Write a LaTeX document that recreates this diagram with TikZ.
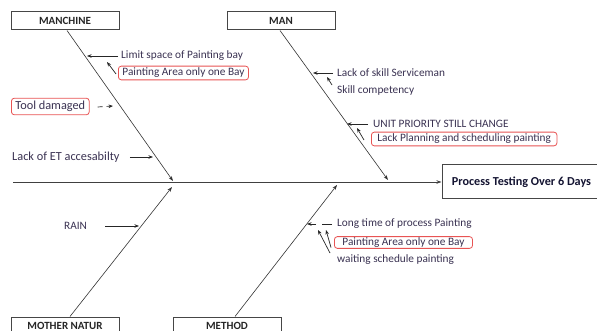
\documentclass[tikz,border=0pt]{standalone}
\usepackage{fontspec}
\setmainfont{Carlito}
\usetikzlibrary{arrows.meta,positioning,calc}
\definecolor{txt}{RGB}{58,50,82}
\definecolor{redb}{RGB}{232,84,84}
\definecolor{boxc}{RGB}{70,70,70}
\definecolor{efftxt}{RGB}{20,20,50}
\tikzset{
  catbox/.style={draw=boxc,line width=1pt,minimum width=108pt,minimum height=18pt,inner sep=0pt,font=\fontsize{11}{13}\selectfont\bfseries,text=black!85},
  effectbox/.style={draw=boxc,line width=1pt,minimum width=156pt,minimum height=34pt,inner sep=0pt,font=\fontsize{12.2}{14}\selectfont\bfseries,text=efftxt},
  lbl/.style={anchor=west,inner sep=0pt,text=txt,font=\fontsize{11.3}{13}\selectfont},
  redbox/.style={anchor=west,draw=redb,line width=0.8pt,rounded corners=3pt,inner xsep=4pt,inner ysep=2pt,text=txt,font=\fontsize{11.3}{13}\selectfont},
  bone/.style={draw=black!80,line width=0.6pt,-{Stealth[length=5pt,width=3.5pt]}},
  spine/.style={draw=black!75,line width=0.9pt,-{Stealth[length=5pt,width=3.5pt]}},
  arr/.style={draw=black!85,line width=0.7pt,-{Stealth[length=4.5pt,width=3.5pt]}}
}
\begin{document}
\begin{tikzpicture}[x=1pt,y=-1pt]
\useasboundingbox (0,0) rectangle (597,331);
\clip (0,0) rectangle (597,331);
\fill[white] (0,0) rectangle (597,331);
% category boxes
\node[catbox] (manchine) at (65,21) {MANCHINE};
\node[catbox] (man) at (281,21) {MAN};
\node[catbox] (mother) at (65,326) {MOTHER NATUR};
\node[catbox] (method) at (227,326) {METHOD};
\node[effectbox] (effect) at (520,182) {\hspace*{3pt}Process Testing Over 6 Days};
% spine
\coordinate (spinestart) at (13,182);
\draw[spine] (spinestart) -- (effect.west);
% bones
\coordinate (bm) at (173,181);
\coordinate (bman) at (388,180);
\coordinate (bmo) at (172,187);
\coordinate (bme) at (337,185);
\draw[bone] ([xshift=2pt]manchine.south) -- (bm);
\draw[bone] ([xshift=-1pt]man.south) -- (bman);
\draw[bone] ([xshift=5pt]mother.north) -- (bmo);
\draw[bone] ([xshift=8pt]method.north) -- (bme);
% MANCHINE causes
\node[lbl] (limit) at (121,56) {Limit space of Painting bay};
\coordinate (limitt) at (87,56);
\draw[arr] ([xshift=-3pt]limit.west) -- (limitt);
\node[redbox] (pa1) at (118,73) {Painting Area only one Bay};
\coordinate (pa1t) at (107,62);
\draw[arr] ([xshift=-2pt,yshift=-1pt]pa1.west) -- (pa1t);
\node[redbox,font=\fontsize{12.3}{14}\selectfont,inner ysep=3pt] (tool) at (11,106.5) {Tool damaged};
\coordinate (toolt) at (113,106);
\draw[arr,dash pattern=on 5pt off 4pt on 20pt] ([xshift=8pt,yshift=-0.5pt]tool.east) -- (toolt);
\node[lbl,font=\fontsize{12.3}{14}\selectfont] (lacket) at (12,157) {Lack of ET accesabilty};
\coordinate (lackett) at (153,157);
\draw[arr] ([xshift=10pt]lacket.east) -- (lackett);
% MOTHER NATUR cause
\node[lbl] (rain) at (64,226) {RAIN};
\coordinate (raint) at (139,226);
\draw[arr] ([xshift=18pt]rain.east) -- (raint);
% MAN causes
\node[lbl] (skill) at (337,73) {Lack of skill Serviceman};
\coordinate (skillt) at (313,73);
\draw[arr] ([xshift=-4pt]skill.west) -- (skillt);
\node[lbl] (comp) at (337,90) {Skill competency};
\coordinate (compt) at (327,77);
\draw[arr] ($(comp.west)+(-5,-5)$) -- (compt);
\node[lbl] (unit) at (373,124) {UNIT PRIORITY STILL CHANGE};
\coordinate (unitt) at (347,124);
\draw[arr] ([xshift=-5pt]unit.west) -- (unitt);
\node[redbox,inner xsep=6pt] (plan) at (371,139) {Lack Planning and scheduling painting};
\coordinate (plant) at (357,128);
\draw[arr] ([xshift=-7pt,yshift=-1pt]plan.west) -- (plant);
% METHOD causes
\node[lbl] (long) at (337,224) {Long time of process Painting};
\coordinate (longt) at (307,224);
\draw[arr,dash pattern=on 10pt off 6pt on 20pt] ([xshift=-5pt]long.west) -- (longt);
\node[redbox,inner xsep=8pt,inner ysep=1pt] (pa2) at (334,242.5) {Painting Area only one Bay};
\coordinate (pa2t) at (326,230);
\draw[arr] ([xshift=-3pt,yshift=-5pt]pa2.west) -- (pa2t);
\node[lbl] (wait) at (337,260) {waiting schedule painting};
\coordinate (waitt) at (318,230);
\draw[arr] ($(wait.west)+(-7,-7)$) -- (waitt);
\end{tikzpicture}
\end{document}
